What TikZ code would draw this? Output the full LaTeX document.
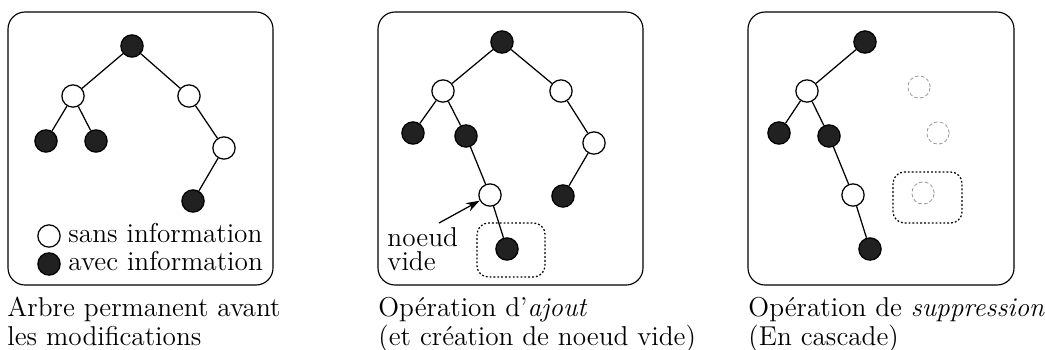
\documentclass[tikz,border=0pt]{standalone}
\usetikzlibrary{arrows.meta}
\begin{document}
\begin{tikzpicture}[x=0.44pt,y=-0.44pt,
 wn/.style={circle,draw,fill=white,minimum size=9.8pt,inner sep=0pt,line width=0.55pt},
 bn/.style={circle,draw,fill=black!87,minimum size=9.8pt,inner sep=0pt,line width=0.55pt},
 gn/.style={circle,draw=black!40,dash pattern=on 1.6pt off 1pt,minimum size=9.8pt,inner sep=0pt,line width=0.35pt},
 panel/.style={draw,rounded corners=7.5pt,line width=0.5pt},
 dotbox/.style={draw,dash pattern=on 0.8pt off 0.9pt,rounded corners=5pt,line width=0.55pt},
 ed/.style={line width=0.55pt},
 txt/.style={anchor=base west,inner sep=0pt,font=\fontsize{12}{14}\selectfont},
]
\useasboundingbox (0,0) rectangle (1045,349);
% Panel 1
\draw[panel] (8,12) rectangle (273,285);
\node[bn] (a1) at (132,46) {};
\node[wn] (a2) at (73,96) {};
\node[wn] (a3) at (189,96) {};
\node[bn] (a4) at (46,141) {};
\node[bn] (a5) at (96,141) {};
\node[wn] (a6) at (224,148) {};
\node[bn] (a7) at (193,201) {};
\draw[ed] (a1)--(a2) (a1)--(a3) (a2)--(a4) (a2)--(a5) (a3)--(a6) (a6)--(a7);
\node[wn] (lw) at (49,236) {};
\node[bn] (lb) at (49,264) {};
\node[txt] (lwt) at (68,242) {sans information};
\node[txt] (lbt) at (68,270) {avec information};
% Panel 2
\draw[panel] (378,12) rectangle (643,285);
\node[bn] (b1) at (502,42) {};
\node[wn] (b2) at (443,91) {};
\node[wn] (b3) at (561,91) {};
\node[bn] (b4) at (413,133) {};
\node[bn] (b5) at (466,136) {};
\node[wn] (b6) at (594,143) {};
\node[bn] (b7) at (563,196) {};
\node[wn] (b8) at (490,195) {};
\node[bn] (b9) at (507,249) {};
\draw[ed] (b1)--(b2) (b1)--(b3) (b2)--(b4) (b2)--(b5) (b3)--(b6) (b6)--(b7) (b5)--(b8) (b8)--(b9);
\draw[dotbox] (477,223) rectangle (545,277);
\node[txt] (nv1) at (387,246) {noeud};
\node[txt] (nv2) at (387,270) {vide};
\coordinate (arrs) at (439,223);
\draw[ed,-{Stealth[length=6pt,width=4pt]}] (arrs) -- (b8);
% Panel 3
\draw[panel] (748,12) rectangle (1014,285);
\node[bn] (c1) at (865,42) {};
\node[wn] (c2) at (807,91) {};
\node[bn] (c4) at (779,133) {};
\node[bn] (c5) at (829,136) {};
\node[wn] (c8) at (853,195) {};
\node[bn] (c9) at (870,249) {};
\draw[ed] (c1)--(c2) (c2)--(c4) (c2)--(c5) (c5)--(c8) (c8)--(c9);
\node[gn] (g1) at (919,87) {};
\node[gn] (g2) at (938,133) {};
\node[gn] (g3) at (923,193) {};
\draw[dotbox] (893,172) rectangle (962,223);
% Captions
\node[txt] (k1a) at (7,316) {Arbre permanent avant};
\node[txt] (k1b) at (7,345) {les modifications};
\node[txt] (k2a) at (378,316) {Op\'eration d'\textit{ajout}};
\node[txt] (k2b) at (378,345) {(et cr\'eation de noeud vide)};
\node[txt] (k3a) at (748,316) {Op\'eration de \textit{suppression}};
\node[txt] (k3b) at (748,345) {(En cascade)};
\end{tikzpicture}
\end{document}
